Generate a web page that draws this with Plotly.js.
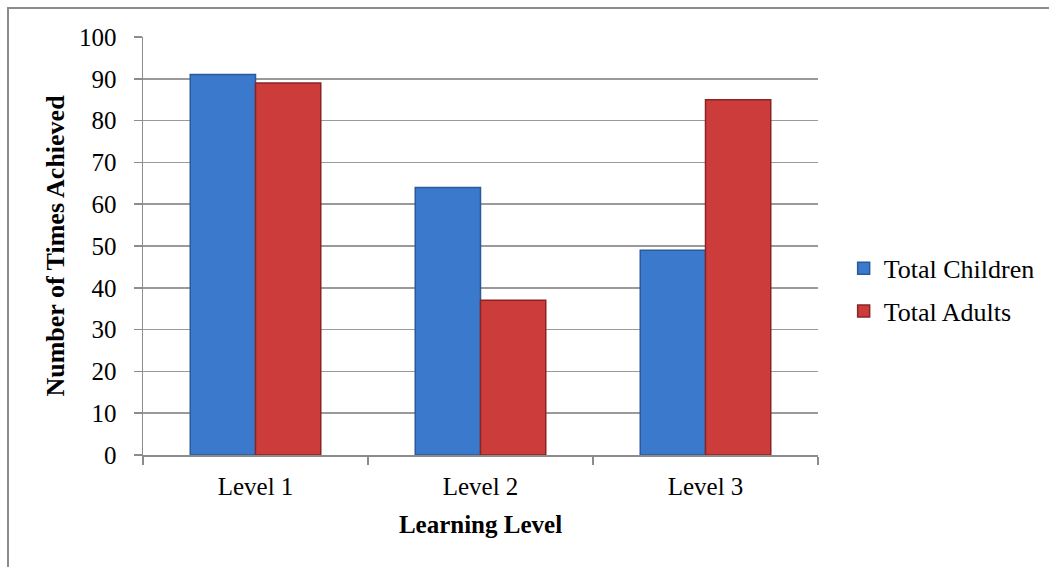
<!DOCTYPE html>
<html>
<head>
<meta charset="utf-8">
<script src="https://cdn.plot.ly/plotly-3.0.1.min.js"></script>
<style>
  html, body { margin: 0; padding: 0; background: #fff; }
  #wrap { position: relative; width: 1049px; height: 567px; overflow: hidden; }
  #frame { position: absolute; left: 7px; top: 7px; width: 1100px; height: 600px;
           border-top: 2px solid #8c8c8c; border-left: 2px solid #8c8c8c; box-sizing: border-box; pointer-events: none; }
  #chart { position: absolute; left: 0; top: 0; width: 1049px; height: 567px; }
</style>
</head>
<body>
<div id="wrap">
  <div id="chart"></div>
  <div id="frame"></div>
</div>
<script>
const categories = ["Level 1", "Level 2", "Level 3"];
const childrenValues = [91, 64, 49];
const adultsValues = [89, 37, 85];
const seriesNames = ["Total Children", "Total Adults"];
const yTickValues = [0, 10, 20, 30, 40, 50, 60, 70, 80, 90, 100];

const font = "'Liberation Serif', 'Times New Roman', serif";

const traces = [
  {
    type: "bar", name: seriesNames[0], x: categories, y: childrenValues,
    marker: { color: "#3a79cb", line: { color: "#2a5a9a", width: 1.5 } },
    legendgroup: "a", hoverinfo: "x+y"
  },
  {
    type: "bar", name: seriesNames[1], x: categories, y: adultsValues,
    marker: { color: "#cc3c3a", line: { color: "#8a2424", width: 1.5 } },
    legendgroup: "b", hoverinfo: "x+y"
  }
];

const layout = {
  width: 1049, height: 567,
  margin: { l: 143, r: 231, t: 37, b: 112, autoexpand: false },
  paper_bgcolor: "rgba(0,0,0,0)", plot_bgcolor: "#fff",
  barmode: "group", bargap: 0.42, bargroupgap: 0,
  font: { family: font, size: 25, color: "#000" },
  showlegend: true,
  legend: {
    x: 1.038, y: 0.395, xanchor: "left", yanchor: "middle",
    font: { family: font, size: 26, color: "#000" },
    tracegroupgap: 6, itemwidth: 30, bgcolor: "rgba(0,0,0,0)"
  },
  xaxis: {
    type: "category", tickson: "boundaries", ticks: "outside", ticklen: 8,
    tickcolor: "#8c8c8c", tickwidth: 1.5,
    showline: true, linecolor: "#8c8c8c", linewidth: 1.5,
    showgrid: false,
    tickfont: { family: font, size: 25 },
    ticklabelstandoff: 8,
    title: { text: "<b>Learning Level</b>", font: { family: font, size: 25 }, standoff: 17 }
  },
  yaxis: {
    range: [0, 100], tickvals: yTickValues, ticks: "outside", ticklen: 8,
    tickcolor: "#8c8c8c", tickwidth: 1.5,
    showline: true, linecolor: "#8c8c8c", linewidth: 1.5,
    showgrid: true, gridcolor: "#9a9a9a", gridwidth: 1.5,
    zeroline: false,
    tickfont: { family: font, size: 25 },
    ticklabelstandoff: 12,
    title: { text: "<b>Number of Times Achieved</b>", font: { family: font, size: 26 }, standoff: 7 }
  }
};

Plotly.newPlot("chart", traces, layout, { displayModeBar: false, staticPlot: true });
</script>
</body>
</html>
